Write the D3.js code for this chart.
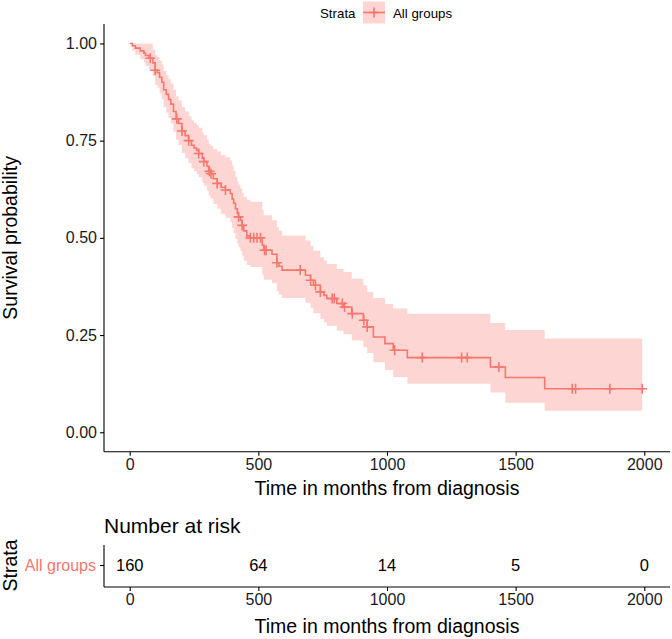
<!DOCTYPE html>
<html>
<head>
<meta charset="utf-8">
<script src="https://cdn.jsdelivr.net/npm/d3@7/dist/d3.min.js"></script>
<style>
html,body{margin:0;padding:0;background:#fff;}
svg{display:block;font-family:"Liberation Sans",Arial,sans-serif;}
</style>
</head>
<body>
<svg id="chart" width="672" height="639"></svg>
<script>
// ---- data ----
const stepTimes = [0,10,22,41,55,61,75,90,99,107,116,125,132,142,151,160,170,180,190,203,215,229,240,250,260,268,282,288,300,307,314,325,340,355,372,391,398,404,411,418,423,430,437,443,455,469,515,521,553,572,580,592,683,703,714,741,755,766,805,831,863,908,923,947,992,1024,1079,1402,1460,1613];
const survival  = [1.000,0.994,0.988,0.981,0.975,0.969,0.962,0.950,0.931,0.925,0.913,0.900,0.881,0.869,0.856,0.844,0.825,0.806,0.794,0.775,0.763,0.750,0.738,0.731,0.725,0.717,0.704,0.696,0.684,0.671,0.665,0.652,0.640,0.630,0.623,0.614,0.600,0.589,0.575,0.563,0.554,0.545,0.532,0.518,0.505,0.500,0.481,0.468,0.458,0.436,0.427,0.417,0.404,0.391,0.378,0.361,0.352,0.344,0.331,0.322,0.305,0.288,0.271,0.245,0.228,0.211,0.192,0.168,0.141,0.112];
const upperCI   = [1.000,1.000,1.000,1.000,1.000,1.000,1.000,0.984,0.971,0.966,0.956,0.946,0.929,0.919,0.908,0.897,0.881,0.864,0.853,0.836,0.825,0.813,0.802,0.796,0.790,0.783,0.771,0.764,0.753,0.741,0.737,0.728,0.722,0.713,0.707,0.699,0.686,0.672,0.657,0.645,0.637,0.627,0.616,0.605,0.598,0.593,0.571,0.558,0.545,0.527,0.518,0.506,0.493,0.480,0.467,0.450,0.441,0.433,0.420,0.412,0.395,0.378,0.361,0.345,0.330,0.318,0.305,0.281,0.263,0.241];
const lowerCI   = [1.000,0.981,0.971,0.960,0.951,0.942,0.933,0.917,0.893,0.886,0.872,0.857,0.836,0.822,0.808,0.794,0.773,0.752,0.739,0.718,0.705,0.692,0.679,0.671,0.664,0.656,0.642,0.634,0.621,0.608,0.601,0.587,0.575,0.562,0.552,0.540,0.525,0.512,0.497,0.485,0.476,0.467,0.454,0.441,0.430,0.425,0.405,0.392,0.383,0.362,0.354,0.345,0.333,0.320,0.307,0.291,0.282,0.274,0.261,0.252,0.236,0.219,0.204,0.180,0.160,0.142,0.125,0.102,0.076,0.055];
const lastTime = 1992;
const censorTimes = [80,99,183,203,229,268,288,310,316,340,372,423,437,469,482,495,508,524,530,572,663,703,722,741,787,795,826,835,865,910,923,1030,1137,1290,1312,1435,1720,1733,1866,1992];
const xTicks = [0,500,1000,1500,2000];
const yTicks = [0,0.25,0.5,0.75,1];
const riskTimes = [0,500,1000,1500,2000];
const riskCounts = [160,64,14,5,0];
const strataName = "All groups";

// ---- setup ----
const col = "#F8766D";
const svg = d3.select("#chart");
const panelL = 104, panelR = 670, panelT = 24, panelB = 451.7;
const x = d3.scaleLinear().domain([-100,2100]).range([panelL,panelR]);
const y = d3.scaleLinear().domain([-0.05,1.05]).range([panelB,panelT]);

const steps = stepTimes.map((t,i)=>({t, s:survival[i], u:upperCI[i], l:lowerCI[i]}));
const stepsEnd = steps.concat([{t:lastTime, s:survival[survival.length-1], u:upperCI[upperCI.length-1], l:lowerCI[lowerCI.length-1]}]);

// survival at time t
function survAt(t){
  let s = 1;
  for (const d of steps) { if (d.t <= t) s = d.s; else break; }
  return s;
}

// CI band
svg.append("path")
  .datum(stepsEnd)
  .attr("fill", col).attr("fill-opacity", 0.3)
  .attr("d", d3.area().curve(d3.curveStepAfter)
    .x(d=>x(d.t)).y0(d=>y(d.l)).y1(d=>y(d.u)));

// survival line
svg.append("path")
  .datum(stepsEnd)
  .attr("fill","none").attr("stroke",col).attr("stroke-width",1.6)
  .attr("d", d3.line().curve(d3.curveStepAfter).x(d=>x(d.t)).y(d=>y(d.s)));

// censor marks
const cs = 5;
svg.append("g").selectAll("path").data(censorTimes).join("path")
  .attr("stroke",col).attr("stroke-width",1.6).attr("fill","none")
  .attr("d", t=>{const cx=x(t), cy=y(survAt(t)); return `M${cx-cs},${cy}H${cx+cs}M${cx},${cy-cs}V${cy+cs}`;});

// axes main
const axisCol = "#000";
const gx = svg.append("g").attr("transform",`translate(0,${panelB})`)
  .call(d3.axisBottom(x).tickValues(xTicks).tickSize(4).tickPadding(3).tickFormat(d3.format("d")));
const gy = svg.append("g").attr("transform",`translate(${panelL},0)`)
  .call(d3.axisLeft(y).tickValues(yTicks).tickSize(4).tickPadding(3).tickFormat(d3.format(".2f")));
[gx,gy].forEach(g=>{
  g.select(".domain").attr("stroke",axisCol).attr("stroke-width",1.1);
  g.selectAll(".tick line").attr("stroke",axisCol).attr("stroke-width",1.1);
  g.selectAll(".tick text").attr("fill","#1a1a1a").style("font-size","16px").style("font-family","'Liberation Sans',Arial,sans-serif");
});
// domain lines without outer ticks: redraw paths
gx.select(".domain").attr("d",`M${panelL},0H${panelR}`);
gy.select(".domain").attr("d",`M0,${panelT}V${panelB}`);

svg.append("text").attr("x",(panelL+panelR)/2).attr("y",495).attr("text-anchor","middle")
  .style("font-size","19.5px").attr("fill","#000").text("Time in months from diagnosis");
svg.append("text").attr("transform",`translate(17,${(panelT+panelB)/2}) rotate(-90)`).attr("text-anchor","middle")
  .style("font-size","19.5px").attr("fill","#000").text("Survival probability");

// legend
svg.append("text").attr("x",320).attr("y",18).style("font-size","13.3px").attr("fill","#000").text("Strata");
svg.append("rect").attr("x",363).attr("y",1.5).attr("width",22).attr("height",22).attr("fill",col).attr("fill-opacity",0.3);
svg.append("path").attr("stroke",col).attr("stroke-width",1.6).attr("d","M363,12.5H385");
svg.append("path").attr("stroke",col).attr("stroke-width",1.6).attr("d","M369,12.5H379M374,7.5V17.5");
svg.append("text").attr("x",393).attr("y",18).style("font-size","13.3px").attr("fill","#000").text(strataName);

// ---- risk table ----
const rT = 545, rB = 587;
const ry = (rT+rB)/2 - 0.5;
svg.append("text").attr("x",panelL).attr("y",533).style("font-size","21px").attr("fill","#000").text("Number at risk");
const gxr = svg.append("g").attr("transform",`translate(0,${rB})`)
  .call(d3.axisBottom(x).tickValues(xTicks).tickSize(4).tickPadding(3).tickFormat(d3.format("d")));
gxr.select(".domain").attr("d",`M${panelL},0H${panelR}`).attr("stroke",axisCol).attr("stroke-width",1.1);
gxr.selectAll(".tick line").attr("stroke",axisCol).attr("stroke-width",1.1);
gxr.selectAll(".tick text").attr("fill","#1a1a1a").style("font-size","16px").style("font-family","'Liberation Sans',Arial,sans-serif");
svg.append("line").attr("x1",panelL).attr("x2",panelL).attr("y1",rT).attr("y2",rB).attr("stroke",axisCol).attr("stroke-width",1.1);
svg.append("line").attr("x1",panelL-4).attr("x2",panelL).attr("y1",ry).attr("y2",ry).attr("stroke",axisCol).attr("stroke-width",1.1);
svg.append("text").attr("x",panelL-8).attr("y",ry).attr("dy","0.35em").attr("text-anchor","end")
  .style("font-size","16px").attr("fill",col).text(strataName);
svg.append("g").selectAll("text").data(riskTimes).join("text")
  .attr("x",d=>x(d)).attr("y",ry).attr("dy","0.35em").attr("text-anchor","middle")
  .style("font-size","16.5px").attr("fill","#000").text((d,i)=>riskCounts[i]);
svg.append("text").attr("x",(panelL+panelR)/2).attr("y",633).attr("text-anchor","middle")
  .style("font-size","19.5px").attr("fill","#000").text("Time in months from diagnosis");
svg.append("text").attr("transform",`translate(17,${ry}) rotate(-90)`).attr("text-anchor","middle")
  .style("font-size","19.5px").attr("fill","#000").text("Strata");
</script>
</body>
</html>
